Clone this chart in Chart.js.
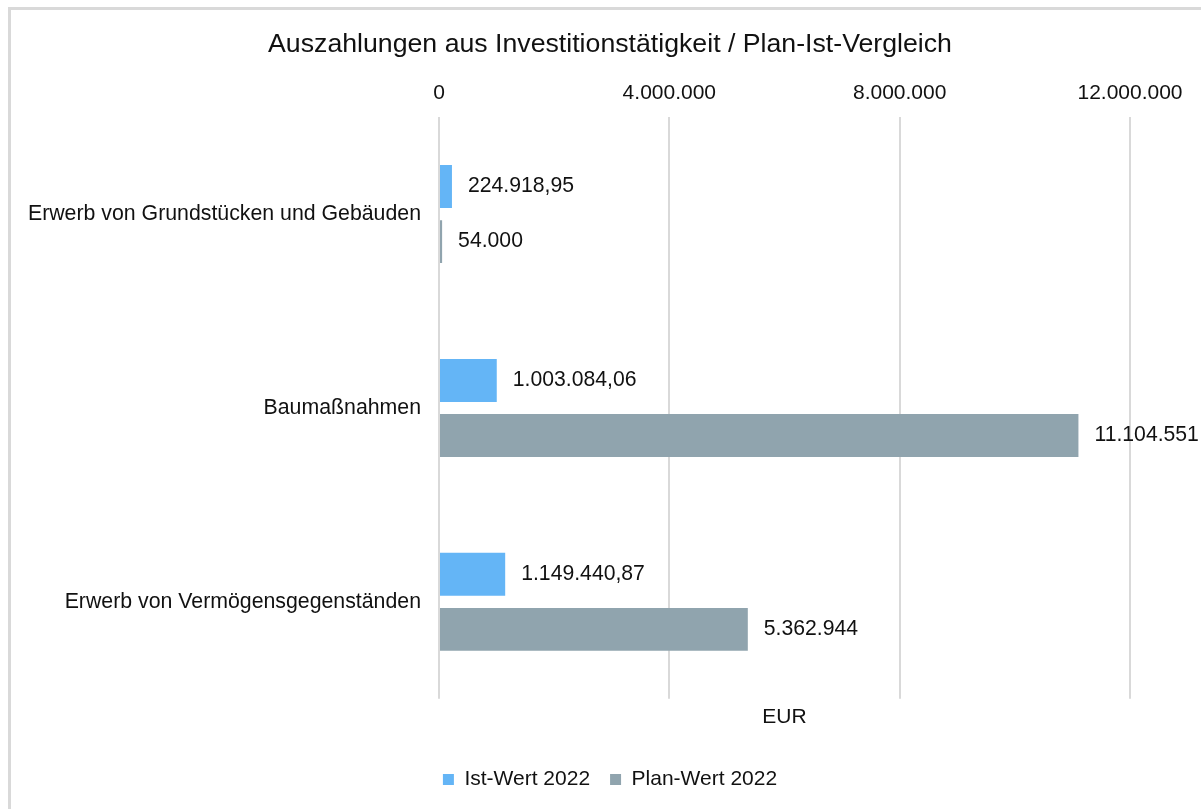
<!DOCTYPE html>
<html>
<head>
<meta charset="utf-8">
<script src="https://cdn.jsdelivr.net/npm/chart.js@4/dist/chart.umd.min.js"></script>
<style>
    html, body { margin: 0; padding: 0; background: #fff; overflow: hidden; }
    .frame {
        position: absolute;
        left: 8px;
        top: 7px;
        width: 1198px;
        height: 830px;
        border: 3px solid #d9d9d9;
        background: #fff;
    }
    #chart { display: block; }
</style>
</head>
<body>
<div class="frame">
    <canvas id="chart" width="1198" height="799"></canvas>
</div>
<script>
// Chart data
const categories = ['Erwerb von Grundstücken und Gebäuden', 'Baumaßnahmen', 'Erwerb von Vermögensgegenständen'];
const istWerte = [224918.95, 1003084.06, 1149440.87];
const planWerte = [54000, 11104551, 5362944];
const seriesNames = ['Ist-Wert 2022', 'Plan-Wert 2022'];
const tickValues = [0, 4000000, 8000000, 12000000];

const FONT = "'Liberation Sans', Arial, sans-serif";
const TEXT = '#111111';

// German number format: 1.234.567,89
function formatDe(value, decimals) {
    const fixed = value.toFixed(decimals);
    const parts = fixed.split('.');
    const intPart = parts[0].replace(/\B(?=(\d{3})+(?!\d))/g, '.');
    return parts.length > 1 ? intPart + ',' + parts[1] : intPart;
}

// draws the value next to each bar end
const barLabels = {
    id: 'barLabels',
    afterDatasetsDraw(chart) {
        const ctx = chart.ctx;
        ctx.save();
        ctx.font = '21.2px ' + FONT;
        ctx.fillStyle = TEXT;
        ctx.textAlign = 'left';
        ctx.textBaseline = 'middle';
        chart.data.datasets.forEach((ds, i) => {
            const meta = chart.getDatasetMeta(i);
            meta.data.forEach((bar, j) => {
                ctx.fillText(formatDe(ds.data[j], ds.decimals), bar.x + 16, bar.y);
            });
        });
        ctx.restore();
    }
};

new Chart(document.getElementById('chart'), {
    type: 'bar',
    data: {
        labels: categories,
        datasets: [
            {
                label: seriesNames[0],
                data: istWerte,
                decimals: 2,
                xAxisID: 'x',
                yAxisID: 'y',
                backgroundColor: '#64b5f6',
                borderWidth: 0,
                categoryPercentage: 0.568,
                barPercentage: 0.78
            },
            {
                label: seriesNames[1],
                data: planWerte,
                decimals: 0,
                xAxisID: 'x',
                yAxisID: 'y',
                backgroundColor: '#90a4ae',
                borderWidth: 0,
                categoryPercentage: 0.568,
                barPercentage: 0.78
            }
        ]
    },
    options: {
        indexAxis: 'y',
        responsive: false,
        animation: false,
        layout: { padding: { left: 0, right: 0, top: 0, bottom: 9 } },
        plugins: {
            title: {
                display: true,
                text: 'Auszahlungen aus Investitionstätigkeit / Plan-Ist-Vergleich',
                color: TEXT,
                font: { family: FONT, size: 26.7, weight: 'normal' },
                padding: { top: 19, bottom: 6 }
            },
            legend: {
                position: 'bottom',
                labels: {
                    color: TEXT,
                    font: { family: FONT, size: 21 },
                    boxWidth: 11,
                    boxHeight: 11,
                    padding: 20
                }
            },
            tooltip: { enabled: false }
        },
        scales: {
            x: {
                position: 'top',
                min: 0,
                max: 12000000,
                afterBuildTicks: (scale) => {
                    scale.ticks = tickValues.map(v => ({ value: v }));
                },
                afterFit: (scale) => { scale.height = 50.1; },
                ticks: {
                    color: TEXT,
                    font: { family: FONT, size: 21 },
                    padding: 11,
                    maxRotation: 0,
                    callback: (v) => formatDe(v, 0)
                },
                grid: { color: '#d9d9d9', lineWidth: 2, drawTicks: false },
                border: { display: false }
            },
            x2: {
                axis: 'x',
                position: 'bottom',
                min: 0,
                max: 1,
                afterFit: (scale) => { scale.height = 50.2; },
                ticks: { display: false },
                grid: { display: false, drawTicks: false },
                border: { display: false },
                title: {
                    display: true,
                    text: 'EUR',
                    color: TEXT,
                    font: { family: FONT, size: 21 },
                    padding: { top: 5.4, bottom: 19.6 }
                }
            },
            y: {
                afterFit: (scale) => { scale.width = 428; },
                ticks: {
                    color: TEXT,
                    font: { family: FONT, size: 21.3 },
                    padding: 18
                },
                grid: { display: false, drawTicks: false },
                border: { display: false }
            },
            // empty right-hand axis, only keeps the space right of the plot
            yR: {
                axis: 'y',
                type: 'linear',
                position: 'right',
                afterFit: (scale) => { scale.width = 79; },
                ticks: { display: false },
                grid: { display: false, drawTicks: false },
                border: { display: false }
            }
        }
    },
    plugins: [barLabels]
});
</script>
</body>
</html>
